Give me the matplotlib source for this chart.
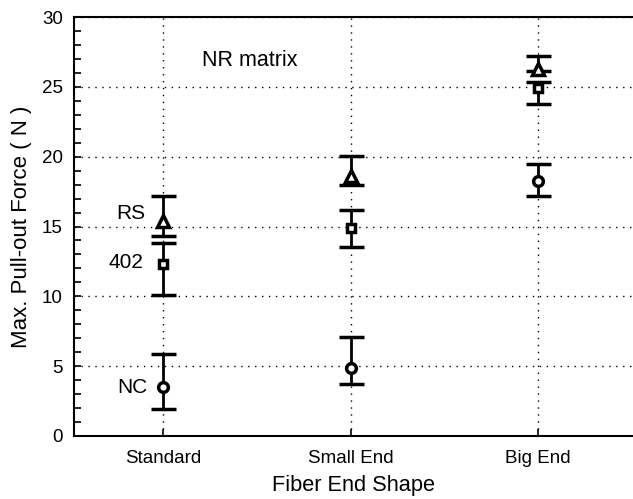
import matplotlib
matplotlib.use("Agg")
import matplotlib.pyplot as plt
from matplotlib.ticker import MultipleLocator

plt.rcParams['font.family'] = ['Liberation Sans', 'DejaVu Sans']

shapes = ["Standard", "Small End", "Big End"]
positions = [1, 2, 3]

# mean pull-out force with lower/upper bounds of the scatter, per fiber type
nc_mean = [3.5, 4.9, 18.25]
nc_low = [1.9, 3.7, 17.2]
nc_high = [5.9, 7.1, 19.45]

f402_mean = [12.3, 14.9, 24.9]
f402_low = [10.1, 13.5, 23.8]
f402_high = [13.8, 16.2, 25.35]

rs_mean = [15.4, 18.6, 26.3]
rs_low = [14.3, 17.95, 26.1]
rs_high = [17.2, 20.05, 27.2]

fig = plt.figure(figsize=(6.33, 4.99), dpi=100)
ax = fig.add_axes([74 / 633, 63 / 499, 559 / 633, 419 / 499])

series = [
    (nc_mean, nc_low, nc_high, "o", 7),
    (f402_mean, f402_low, f402_high, "s", 6),
    (rs_mean, rs_low, rs_high, "^", 8),
]
for mean, low, high, marker, ms in series:
    yerr = [[m - l for m, l in zip(mean, low)], [h - m for m, h in zip(mean, high)]]
    ax.errorbar(positions, mean, yerr=yerr, fmt=marker, color="black",
                mfc="white", mec="black", mew=2.5, ms=ms,
                elinewidth=2, capsize=9, capthick=2, zorder=3)

ax.set_xlim(0.525, 3.507)
ax.set_ylim(0, 30)
ax.set_xticks(positions)
ax.set_xticklabels(shapes)
ax.yaxis.set_major_locator(MultipleLocator(5))
ax.yaxis.set_minor_locator(MultipleLocator(1))
ax.tick_params(axis="both", which="both", direction="in", length=5, width=1.2,
               labelsize=13.5, colors="black")
ax.tick_params(axis="x", pad=10)
ax.tick_params(axis="y", pad=8)
ax.grid(True, which="major", color="black", linestyle=(0, (1, 4)), linewidth=1)
ax.set_axisbelow(True)

for side in ("left", "top", "bottom"):
    ax.spines[side].set_linewidth(1.5)
ax.spines["right"].set_visible(False)

ax.set_xlabel("Fiber End Shape", fontsize=15.7, labelpad=6)
ax.set_ylabel("Max. Pull-out Force ( N )", fontsize=16, labelpad=7)

ax.text(1.46, 26.9, "NR matrix", fontsize=15.5, ha="center", va="center")
ax.text(0.905, 15.9, "RS", fontsize=15, ha="right", va="center")
ax.text(0.895, 12.4, "402", fontsize=15, ha="right", va="center")
ax.text(0.915, 3.45, "NC", fontsize=15, ha="right", va="center")

fig.savefig("out.png", dpi=100)
